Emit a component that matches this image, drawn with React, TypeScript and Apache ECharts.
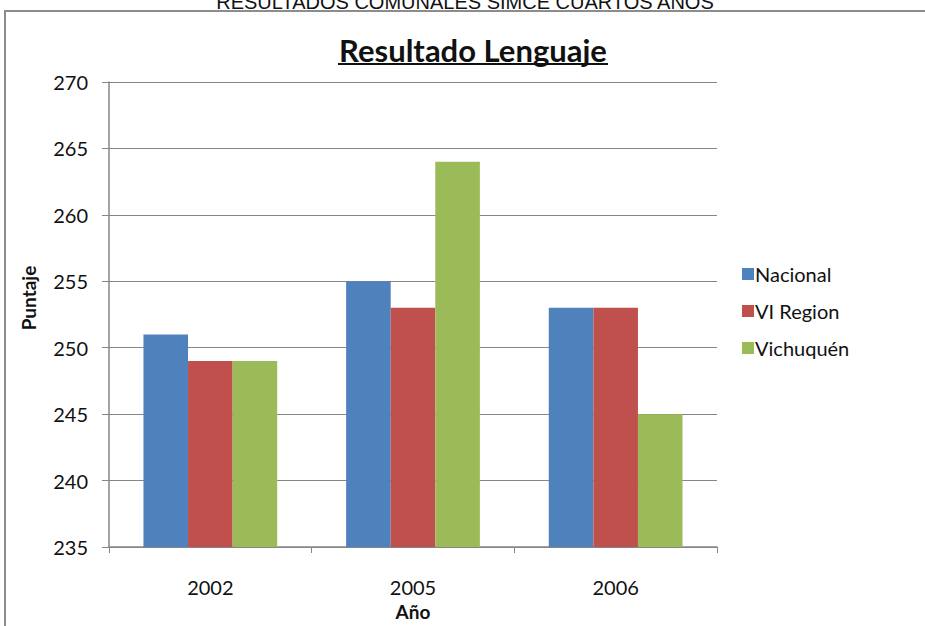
import React, { useEffect, useRef } from "react";
import * as echarts from "echarts";

const categories = ["2002", "2005", "2006"];
const seriesNames = ["Nacional", "VI Region", "Vichuquén"];
const nacional = [251, 255, 253];
const viRegion = [249, 253, 253];
const vichuquen = [249, 264, 245];
const colors = ["#4F81BD", "#C0504D", "#9BBB59"];

const FONT = "Lato, 'Open Sans', sans-serif";

export default function App() {
  const ref = useRef<HTMLDivElement>(null);
  useEffect(() => {
    if (!ref.current) return;
    const chart = echarts.init(ref.current, null, { renderer: "svg" });
    const values = [nacional, viRegion, vichuquen];
    chart.setOption({
      animation: false,
      backgroundColor: "#ffffff",
      textStyle: { fontFamily: FONT },
      graphic: [
        {
          type: "rect",
          shape: { x: 5, y: 11, width: 940, height: 640 },
          style: { fill: "none", stroke: "#8c8c8c", lineWidth: 2 },
          silent: true,
        },
        {
          type: "text",
          x: 465,
          y: 12,
          style: {
            text: "RESULTADOS COMUNALES SIMCE CUARTOS AÑOS",
            fontFamily: "'Liberation Sans', Arial, sans-serif",
            fontSize: 20,
            fill: "#111",
            align: "center",
            verticalAlign: "bottom",
          },
        },
        {
          type: "text",
          x: 473,
          y: 65,
          style: {
            text: "Resultado Lenguaje",
            fontFamily: FONT,
            fontSize: 31,
            fontWeight: "bold",
            fill: "#111",
            align: "center",
            verticalAlign: "bottom",
          },
        },
        {
          type: "line",
          shape: { x1: 338, y1: 64, x2: 608, y2: 64 },
          style: { stroke: "#111", lineWidth: 2 },
        },
        {
          type: "text",
          x: 28,
          y: 298,
          rotation: Math.PI / 2,
          style: {
            text: "Puntaje",
            fontFamily: FONT,
            fontSize: 19,
            fontWeight: "bold",
            fill: "#111",
            align: "center",
            verticalAlign: "middle",
          },
        },
      ],
      legend: {
        orient: "vertical",
        left: 737,
        top: 259,
        itemWidth: 12,
        itemHeight: 12,
        itemGap: 17,
        icon: "rect",
        textStyle: { fontSize: 20, color: "#111", fontFamily: FONT, padding: [0, 0, 0, -4] },
        data: seriesNames,
      },
      grid: { left: 109, top: 82, right: 208, bottom: 78 },
      xAxis: {
        type: "category",
        data: categories,
        name: "Año",
        nameLocation: "middle",
        nameGap: 55,
        nameTextStyle: { fontSize: 19, fontWeight: "bold", color: "#111", fontFamily: FONT },
        axisLine: { lineStyle: { color: "#868686", width: 1.5 } },
        axisTick: { show: true, length: 6, lineStyle: { color: "#868686" } },
        axisLabel: { fontSize: 20, color: "#111", margin: 30, fontFamily: FONT },
      },
      yAxis: {
        type: "value",
        min: 235,
        max: 270,
        interval: 5,
        axisLine: { show: true, lineStyle: { color: "#868686", width: 1.5 } },
        axisTick: { show: true, length: 7, lineStyle: { color: "#868686" } },
        axisLabel: { fontSize: 20, color: "#111", margin: 21, fontFamily: FONT },
        splitLine: { lineStyle: { color: "#868686", width: 1 } },
      },
      series: seriesNames.map((name, i) => ({
        name,
        type: "bar",
        data: values[i],
        barGap: "0%",
        barCategoryGap: "34%",
        itemStyle: { color: colors[i] },
      })),
    });
    return () => chart.dispose();
  }, []);
  return (
    <div
      ref={ref}
      style={{ position: "fixed", left: 0, top: 0, width: 925, height: 626 }}
    />
  );
}
